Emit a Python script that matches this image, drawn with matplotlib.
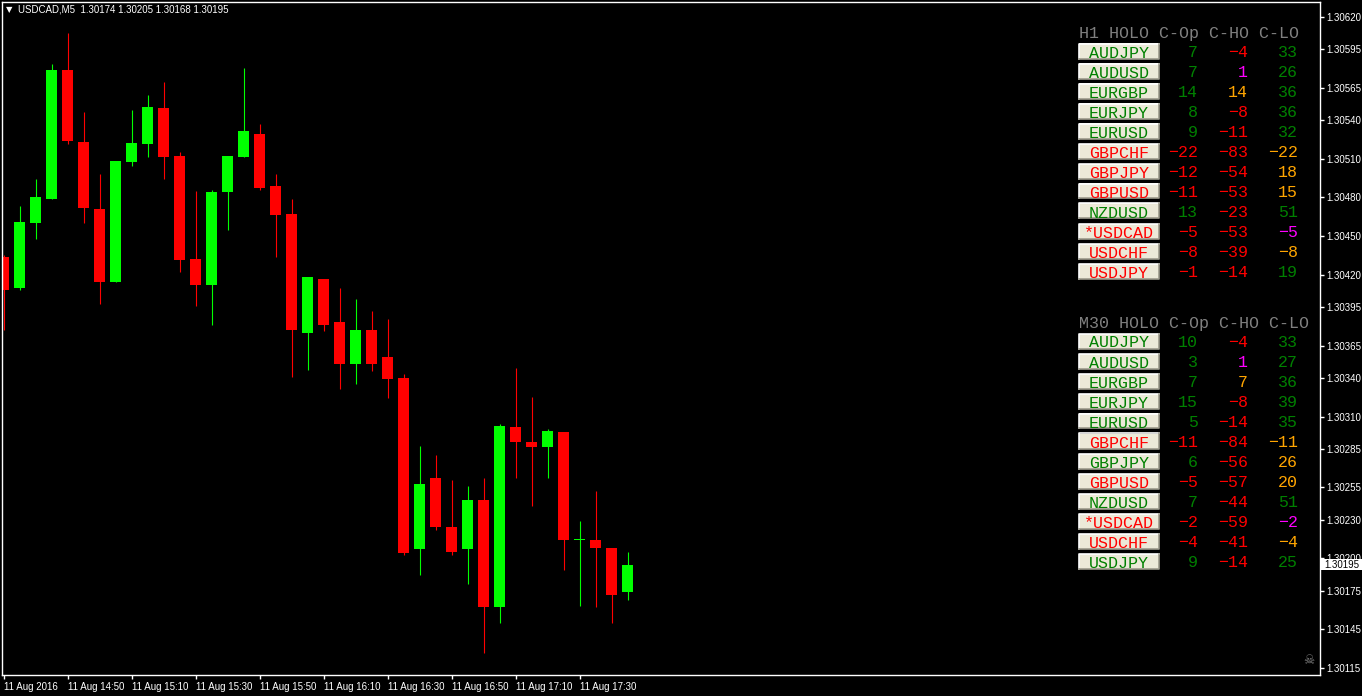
import matplotlib
matplotlib.use('Agg')
import matplotlib.pyplot as plt
from matplotlib.patches import Rectangle
from matplotlib.lines import Line2D

# === Kerzendaten USDCAD M5 (ab 14:30) ===
opens = [1.30434, 1.30410, 1.30460, 1.30479, 1.30579, 1.30523, 1.30471, 1.30414, 1.30507, 1.30521,
         1.30549, 1.30512, 1.30432, 1.30412, 1.30484, 1.30511, 1.30529, 1.30489, 1.30467, 1.30375,
         1.30417, 1.30383, 1.30351, 1.30377, 1.30356, 1.30340, 1.30207, 1.30262, 1.30224, 1.30207,
         1.30245, 1.30162, 1.30302, 1.30290, 1.30286, 1.30298, 1.30214, 1.30214, 1.30208, 1.30174]
highs = [1.30435, 1.30473, 1.30494, 1.30583, 1.30607, 1.30546, 1.30498, 1.30508, 1.30548, 1.30559,
         1.30569, 1.30515, 1.30485, 1.30486, 1.30512, 1.30580, 1.30537, 1.30498, 1.30479, 1.30418,
         1.30417, 1.30410, 1.30401, 1.30392, 1.30386, 1.30343, 1.30287, 1.30280, 1.30261, 1.30256,
         1.30262, 1.30304, 1.30348, 1.30325, 1.30300, 1.30298, 1.30229, 1.30252, 1.30208, 1.30205]
lows = [1.30377, 1.30408, 1.30448, 1.30479, 1.30521, 1.30460, 1.30397, 1.30414, 1.30504, 1.30511,
        1.30494, 1.30422, 1.30396, 1.30381, 1.30455, 1.30511, 1.30486, 1.30434, 1.30341, 1.30346,
        1.30376, 1.30331, 1.30335, 1.30345, 1.30324, 1.30203, 1.30187, 1.30222, 1.30203, 1.30180,
        1.30127, 1.30150, 1.30262, 1.30241, 1.30262, 1.30191, 1.30163, 1.30162, 1.30150, 1.30168]
closes = [1.30408, 1.30461, 1.30480, 1.30579, 1.30524, 1.30472, 1.30414, 1.30508, 1.30522, 1.30550,
          1.30511, 1.30431, 1.30412, 1.30484, 1.30512, 1.30531, 1.30487, 1.30466, 1.30377, 1.30418,
          1.30381, 1.30351, 1.30377, 1.30351, 1.30339, 1.30204, 1.30258, 1.30224, 1.30205, 1.30245,
          1.30162, 1.30303, 1.30290, 1.30286, 1.30299, 1.30214, 1.30215, 1.30208, 1.30172, 1.30195]

preis_ticks = [1.30620, 1.30595, 1.30565, 1.30540, 1.30510, 1.30480, 1.30450, 1.30420, 1.30395,
               1.30365, 1.30340, 1.30310, 1.30285, 1.30255, 1.30230, 1.30200, 1.30175, 1.30145, 1.30115]
zeit_ticks = [0, 4, 8, 12, 16, 20, 24, 28, 32, 36]
zeit_labels = ['11 Aug 2016', '11 Aug 14:50', '11 Aug 15:10', '11 Aug 15:30', '11 Aug 15:50',
               '11 Aug 16:10', '11 Aug 16:30', '11 Aug 16:50', '11 Aug 17:10', '11 Aug 17:30']
aktueller_preis = 1.30195

# === HOLO Tabelle ===
symbole = ['AUDJPY', 'AUDUSD', 'EURGBP', 'EURJPY', 'EURUSD', 'GBPCHF',
           'GBPJPY', 'GBPUSD', 'NZDUSD', '*USDCAD', 'USDCHF', 'USDJPY']
h1_cop = [7, 7, 14, 8, 9, -22, -12, -11, 13, -5, -8, -1]
h1_cho = [-4, 1, 14, -8, -11, -83, -54, -53, -23, -53, -39, -14]
h1_clo = [33, 26, 36, 36, 32, -22, 18, 15, 51, -5, -8, 19]
m30_cop = [10, 3, 7, 15, 5, -11, 6, -5, 7, -2, -4, 9]
m30_cho = [-4, 1, 7, -8, -14, -84, -56, -57, -44, -59, -41, -14]
m30_clo = [33, 27, 36, 39, 35, -11, 26, 20, 51, -2, -4, 25]
# Status der Werte: g = plus, r = minus, o = Warnung, m = Treffer
h1_cho_status = ['r', 'm', 'o', 'r', 'r', 'r', 'r', 'r', 'r', 'r', 'r', 'r']
h1_clo_status = ['g', 'g', 'g', 'g', 'g', 'o', 'o', 'o', 'g', 'm', 'o', 'g']
m30_cho_status = ['r', 'm', 'o', 'r', 'r', 'r', 'r', 'r', 'r', 'r', 'r', 'r']
m30_clo_status = ['g', 'g', 'g', 'g', 'g', 'o', 'o', 'o', 'g', 'm', 'o', 'g']

farben = {'g': '#008000', 'r': '#FF0000', 'o': '#FFA500', 'm': '#FF00FF'}

B, H = 1362, 696


def px(x, y):
    # Pixel -> Figurkoordinaten
    return x / B, 1 - y / H


fig = plt.figure(figsize=(B / 100, H / 100), dpi=100, facecolor='black')
ax = fig.add_axes([2 / B, 21 / H, 1317.5 / B, 673 / H])
ax.set_facecolor('black')
for s in ax.spines.values():
    s.set_color('white')
    s.set_linewidth(1)

# === Kerzen zeichnen ===
for i in range(len(opens)):
    o, h, l, c = opens[i], highs[i], lows[i], closes[i]
    farbe = '#00FF00' if c >= o else '#FF0000'
    ax.vlines(i, l, h, color=farbe, linewidth=0.8)
    koerper = max(abs(c - o), 0.000008)
    ax.bar(i, koerper, bottom=min(o, c), width=0.6875, color=farbe, linewidth=0)

ax.set_xlim(-0.09375, 82.25)
ax.set_ylim(1.301096, 1.306314)

ax.yaxis.tick_right()
ax.set_yticks(preis_ticks)
ax.set_yticklabels(['%.5f' % p for p in preis_ticks])
ax.set_xticks(zeit_ticks)
ax.set_xticklabels(zeit_labels, ha='left')
ax.tick_params(axis='both', colors='white', labelsize=7, length=3, width=1, direction='out')
ax.tick_params(axis='x', pad=2)
ax.tick_params(axis='y', pad=2)
for t in ax.get_xticklabels() + ax.get_yticklabels():
    t.set_fontfamily('Liberation Sans')

# Kopfzeile
fig.text(*px(6, 10), '\u25bc', color='white', fontsize=6, va='center', family='DejaVu Sans')
fig.text(*px(18, 10), 'USDCAD,M5  1.30174 1.30205 1.30168 1.30195', color='white',
         fontsize=7, va='center', family='Liberation Sans')

# aktueller Preis rechts
y_preis = 16.7 + (1.30620 - aktueller_preis) * 128970
fig.patches.append(Rectangle(px(1321, y_preis + 5.5), 41 / B, 11 / H, transform=fig.transFigure,
                             facecolor='white', edgecolor='none', zorder=5))
fig.text(*px(1324, y_preis), '%.5f' % aktueller_preis, color='black', fontsize=7,
         va='center', family='Liberation Sans', zorder=6)

# Totenkopf
fig.text(*px(1309, 661), '\u2620', color='#808080', fontsize=9, ha='center', va='center',
         family='DejaVu Sans')


# === Tabellen zeichnen ===
def knopf(x0, y0, text, farbe):
    fig.patches.append(Rectangle(px(x0, y0 + 15), 80 / B, 15 / H, transform=fig.transFigure,
                                 facecolor='#ECE9D8', edgecolor='none'))
    fig.lines.append(Line2D([x0 / B, x0 / B, (x0 + 80) / B], [1 - (y0 + 15) / H, 1 - y0 / H, 1 - y0 / H],
                            transform=fig.transFigure, color='white', linewidth=1.2))
    fig.lines.append(Line2D([x0 / B, (x0 + 80) / B, (x0 + 80) / B], [1 - (y0 + 15) / H, 1 - (y0 + 15) / H, 1 - y0 / H],
                            transform=fig.transFigure, color='#9d9a8c', linewidth=1.2))
    fig.text(*px(x0 + 40, y0 + 8), text, color=farbe, fontsize=12, ha='center',
             va='center_baseline', family='Liberation Mono')


def tabelle(y_kopf, titel, cop, cho, clo, cho_st, clo_st):
    fig.text(*px(1079, y_kopf), titel, color='#808080', fontsize=12, va='center_baseline',
             family='Liberation Mono')
    for i in range(len(symbole)):
        y = y_kopf + 19 + 20 * i
        f_op = farben['g'] if cop[i] >= 0 else farben['r']
        knopf(1079, y - 7.5, symbole[i], f_op)
        fig.text(*px(1198, y), str(cop[i]).replace('-', '\u2212'), color=f_op, fontsize=12,
                 ha='right', va='center_baseline', family='Liberation Mono')
        fig.text(*px(1248, y), str(cho[i]).replace('-', '\u2212'), color=farben[cho_st[i]],
                 fontsize=12, ha='right', va='center_baseline', family='Liberation Mono')
        fig.text(*px(1298, y), str(clo[i]).replace('-', '\u2212'), color=farben[clo_st[i]],
                 fontsize=12, ha='right', va='center_baseline', family='Liberation Mono')


tabelle(32, 'H1 HOLO C-Op C-HO C-LO', h1_cop, h1_cho, h1_clo, h1_cho_status, h1_clo_status)
tabelle(322, 'M30 HOLO C-Op C-HO C-LO', m30_cop, m30_cho, m30_clo, m30_cho_status, m30_clo_status)

plt.savefig('out.png', dpi=100, facecolor='black')
plt.close()
